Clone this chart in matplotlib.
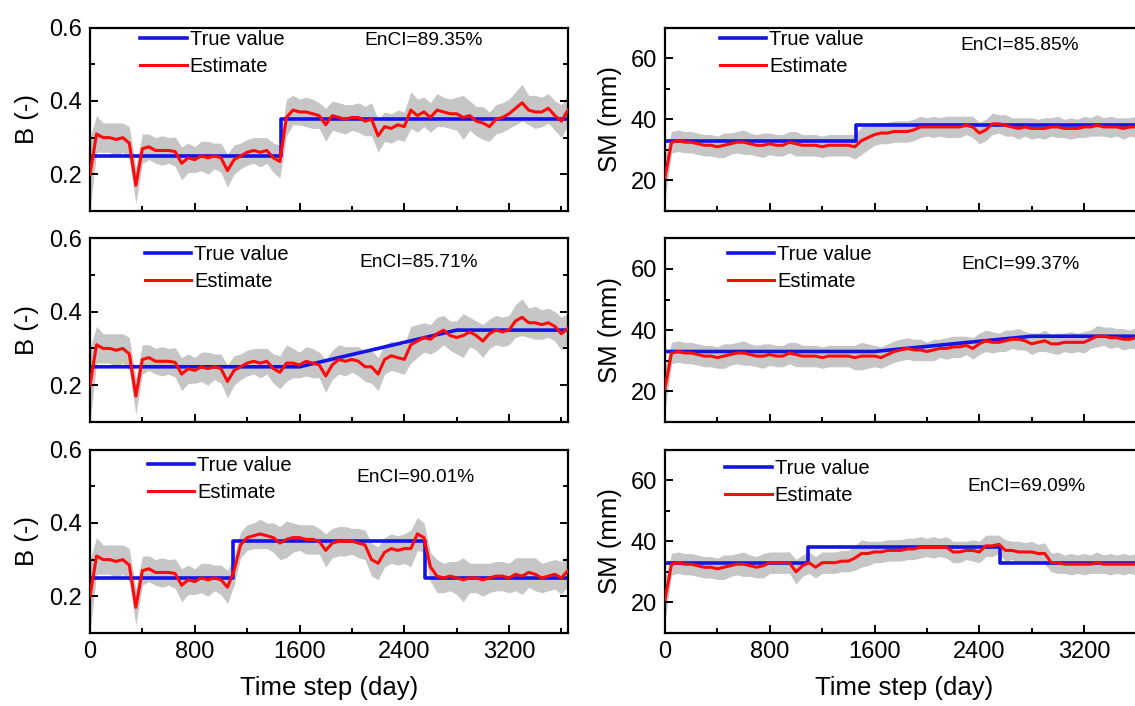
import numpy as np
import matplotlib

matplotlib.use('Agg')
import matplotlib.pyplot as plt
from matplotlib.ticker import MultipleLocator

plt.rcParams['font.family'] = ['Liberation Sans', 'DejaVu Sans']

# ── data (50-day grid) ──────────────────────────────────────────────────
DAYS = list(range(0, 3651, 50))

B1_EST = [0.20, 0.31, 0.30, 0.30, 0.295, 0.30, 0.285, 0.17, 0.27, 0.275,
          0.265, 0.265, 0.265, 0.262, 0.23, 0.245, 0.24, 0.25, 0.245, 0.25,
          0.245, 0.21, 0.24, 0.25, 0.26, 0.265, 0.26, 0.265, 0.245, 0.235,
          0.355, 0.375, 0.37, 0.37, 0.365, 0.36, 0.335, 0.36, 0.355, 0.35,
          0.355, 0.355, 0.345, 0.35, 0.305, 0.33, 0.325, 0.335, 0.33, 0.375,
          0.36, 0.37, 0.355, 0.375, 0.37, 0.365, 0.365, 0.355, 0.36, 0.345,
          0.34, 0.33, 0.35, 0.355, 0.365, 0.38, 0.395, 0.375, 0.37, 0.37,
          0.38, 0.36, 0.345, 0.375]
B2_EST = B1_EST[:30] + [
          0.26, 0.26, 0.255, 0.265, 0.26, 0.255, 0.225, 0.255, 0.27, 0.265,
          0.27, 0.265, 0.25, 0.25, 0.23, 0.27, 0.28, 0.275, 0.27, 0.31,
          0.32, 0.33, 0.325, 0.34, 0.35, 0.335, 0.33, 0.335, 0.345, 0.335,
          0.32, 0.34, 0.35, 0.345, 0.35, 0.375, 0.385, 0.37, 0.37, 0.365,
          0.37, 0.36, 0.34, 0.355]
B3_EST = B1_EST[:21] + [
          0.225, 0.27, 0.34, 0.36, 0.365, 0.37, 0.365, 0.36, 0.345,
          0.355, 0.36, 0.36, 0.355, 0.355, 0.35, 0.325, 0.345, 0.35, 0.35,
          0.35, 0.345, 0.34, 0.30, 0.29, 0.32, 0.33, 0.325, 0.33, 0.33,
          0.37, 0.36, 0.28, 0.255, 0.25, 0.255, 0.25, 0.245, 0.25, 0.25,
          0.245, 0.25, 0.255, 0.255, 0.25, 0.26, 0.255, 0.265, 0.26, 0.25,
          0.255, 0.26, 0.25, 0.27]

SM1_EST = [21, 32.5, 33, 32.5, 32.5, 32, 31.5, 31.5, 31, 31.5,
           32, 32.5, 32.5, 32, 31.5, 31.5, 32, 31.5, 31.5, 32.5,
           32, 31.5, 31.5, 31.5, 31, 31.5, 31.5, 31.5, 31.5, 31,
           33, 34, 35, 35.5, 35.5, 36, 36, 36, 36.5, 37.5,
           37.5, 37.5, 37.5, 37.5, 37.5, 37.5, 38, 37.5, 35.5, 36.5,
           38.5, 38.5, 38, 37.5, 37, 37.5, 37, 37, 37, 37.5,
           37.5, 37, 37, 37, 37.5, 37.5, 38, 37.5, 37.5, 37.5,
           37, 37.5, 37.5, 37.5]
SM2_EST = SM1_EST[:30] + [
           31.5, 31.5, 31.5, 31, 32, 33, 33.5, 34, 33.5, 33.5,
           33, 33.5, 34, 34, 34.5, 34.5, 35, 34, 35.5, 36.5,
           36, 36, 36.5, 37, 37, 36.5, 35.5, 36, 36.5, 35.5,
           35.5, 36, 36, 36, 36, 37, 38, 38, 37.5, 37.5,
           37, 37, 37.5, 37]
SM3_EST = SM1_EST[:15] + [
           32, 33, 33, 33, 33,
           30, 32, 33, 31.5, 33, 33, 33, 33.5, 33.5, 34.5,
           36, 36, 36.5, 36.5, 37, 37, 37, 37.5, 37.5, 38,
           38, 38, 38, 38, 36.5, 36.5, 37, 37, 36.5, 38.5,
           38.5, 39, 37, 37, 36.5, 36.5, 36.5, 36, 36, 33,
           33, 32.5, 32.5, 32.5, 32.5, 32.5, 33, 32.5, 32.5, 32.5,
           32.5, 32.5, 32.5, 32.5]

# ensemble half-spread (grey band)
B_SPREAD = [0.10, 0.05, 0.04, 0.04, 0.045, 0.04, 0.045, 0.05, 0.04, 0.035,
            0.035, 0.04, 0.035, 0.04, 0.045, 0.04, 0.035, 0.04, 0.045, 0.035,
            0.04, 0.045, 0.04, 0.035, 0.035, 0.035, 0.04, 0.035, 0.04, 0.045,
            0.05, 0.04, 0.035, 0.04, 0.04, 0.035, 0.045, 0.04, 0.04, 0.04,
            0.035, 0.04, 0.04, 0.045, 0.045, 0.04, 0.04, 0.04, 0.04, 0.05,
            0.045, 0.04, 0.04, 0.045, 0.04, 0.04, 0.045, 0.06, 0.04, 0.04,
            0.045, 0.04, 0.04, 0.04, 0.04, 0.045, 0.05, 0.04, 0.045, 0.04,
            0.04, 0.04, 0.045, 0.04]
SM_SPREAD = [7, 3.5, 3.5, 3.5, 3.5, 3.5, 3.5, 3.5, 3.5, 4,
             3.5, 3.5, 4, 3.5, 3.5, 4, 3.5, 3.5, 3.5, 3.5,
             4, 3.5, 3.5, 3.5, 3.5, 3.5, 3.5, 3.5, 3.5, 4,
             4.5, 4, 3.5, 3.5, 3.5, 3.5, 3.5, 3.5, 3.5, 3.5,
             3, 3.5, 3, 3.5, 3.5, 3.5, 3, 3.5, 3.5, 3.5,
             3.5, 3, 3.5, 3, 3.5, 3, 3.5, 3, 3.5, 3,
             3.5, 3, 3.5, 3, 3.5, 3, 3.5, 3, 3.5, 3,
             3.5, 3, 3.5, 3]

# true-value breakpoints
B1_TRUE_T = [0, 1460, 1460, 3650]
B1_TRUE_V = [0.25, 0.25, 0.35, 0.35]
B2_TRUE_T = [0, 1600, 2800, 3650]
B2_TRUE_V = [0.25, 0.25, 0.35, 0.35]
B3_TRUE_T = [0, 1090, 1090, 2560, 2560, 3650]
B3_TRUE_V = [0.25, 0.25, 0.35, 0.35, 0.25, 0.25]
SM1_TRUE_T = [0, 1460, 1460, 3650]
SM1_TRUE_V = [33, 33, 38, 38]
SM2_TRUE_T = [0, 1600, 2800, 3650]
SM2_TRUE_V = [33, 33, 38, 38]
SM3_TRUE_T = [0, 1090, 1090, 2560, 2560, 3650]
SM3_TRUE_V = [33, 33, 38, 38, 33, 33]

ENCI = [['89.35', '85.85'], ['85.71', '99.37'], ['90.01', '69.09']]

# ── layout ──────────────────────────────────────────────────────────────
COL_X = [0.0793, 0.5859]
ROW_Y = [0.7011, 0.4025, 0.1034]
AX_W, AX_H = 0.4211, 0.2599
# legend anchor / EnCI text position, axes fraction
LEG_POS = [[(0.105, 0.985), (0.115, 0.985)],
           [(0.115, 0.965), (0.132, 0.965)],
           [(0.121, 0.965), (0.126, 0.950)]]
TXT_POS = [[(0.697, 0.932), (0.743, 0.900)],
           [(0.687, 0.870), (0.743, 0.855)],
           [(0.681, 0.850), (0.757, 0.800)]]

panels = [
    [(B1_EST, B1_TRUE_T, B1_TRUE_V), (SM1_EST, SM1_TRUE_T, SM1_TRUE_V)],
    [(B2_EST, B2_TRUE_T, B2_TRUE_V), (SM2_EST, SM2_TRUE_T, SM2_TRUE_V)],
    [(B3_EST, B3_TRUE_T, B3_TRUE_V), (SM3_EST, SM3_TRUE_T, SM3_TRUE_V)],
]

fig = plt.figure(figsize=(11.35, 7.06), dpi=100)
for r in range(3):
    for c in range(2):
        est, tt, tv = panels[r][c]
        est = np.asarray(est, float)
        spr = np.asarray(B_SPREAD if c == 0 else SM_SPREAD, float)
        ax = fig.add_axes([COL_X[c], ROW_Y[r], AX_W, AX_H])
        ax.fill_between(DAYS, est - spr, est + spr, color='#c6c6c6', lw=0, zorder=1)
        ax.plot(tt, tv, color='#1414e6', lw=2.6, label='True value', zorder=2)
        ax.plot(DAYS, est, color='#ff0a0a', lw=2.2, label='Estimate', zorder=3)
        ax.set_xlim(0, 3650)
        ax.xaxis.set_major_locator(MultipleLocator(800))
        ax.xaxis.set_minor_locator(MultipleLocator(400))
        if c == 0:
            ax.set_ylim(0.1, 0.6)
            ax.yaxis.set_major_locator(MultipleLocator(0.2))
            ax.yaxis.set_minor_locator(MultipleLocator(0.1))
            ax.set_ylabel('B (-)', fontsize=18.5, labelpad=7)
        else:
            ax.set_ylim(10, 70)
            ax.yaxis.set_major_locator(MultipleLocator(20))
            ax.yaxis.set_minor_locator(MultipleLocator(10))
            ax.set_ylabel('SM (mm)', fontsize=18.5, labelpad=6)
        ax.tick_params(which='both', direction='in', right=True, top=False,
                       labelsize=17, width=1.4, pad=6)
        ax.tick_params(which='major', length=6)
        ax.tick_params(which='minor', length=3.5)
        for sp in ax.spines.values():
            sp.set_linewidth(1.6)
        if r < 2:
            ax.tick_params(labelbottom=False)
        else:
            ax.set_xlabel('Time step (day)', fontsize=18.5, labelpad=9)
        ax.legend(loc='upper left', bbox_to_anchor=LEG_POS[r][c], frameon=False,
                  fontsize=14.5, handlelength=2.3, handletextpad=0.15,
                  labelspacing=0.4, borderpad=0, borderaxespad=0)
        tx, ty = TXT_POS[r][c]
        ax.text(tx, ty, f'EnCI={ENCI[r][c]}%', transform=ax.transAxes,
                ha='center', va='center', fontsize=13.8)

fig.savefig('out.png', dpi=100)
